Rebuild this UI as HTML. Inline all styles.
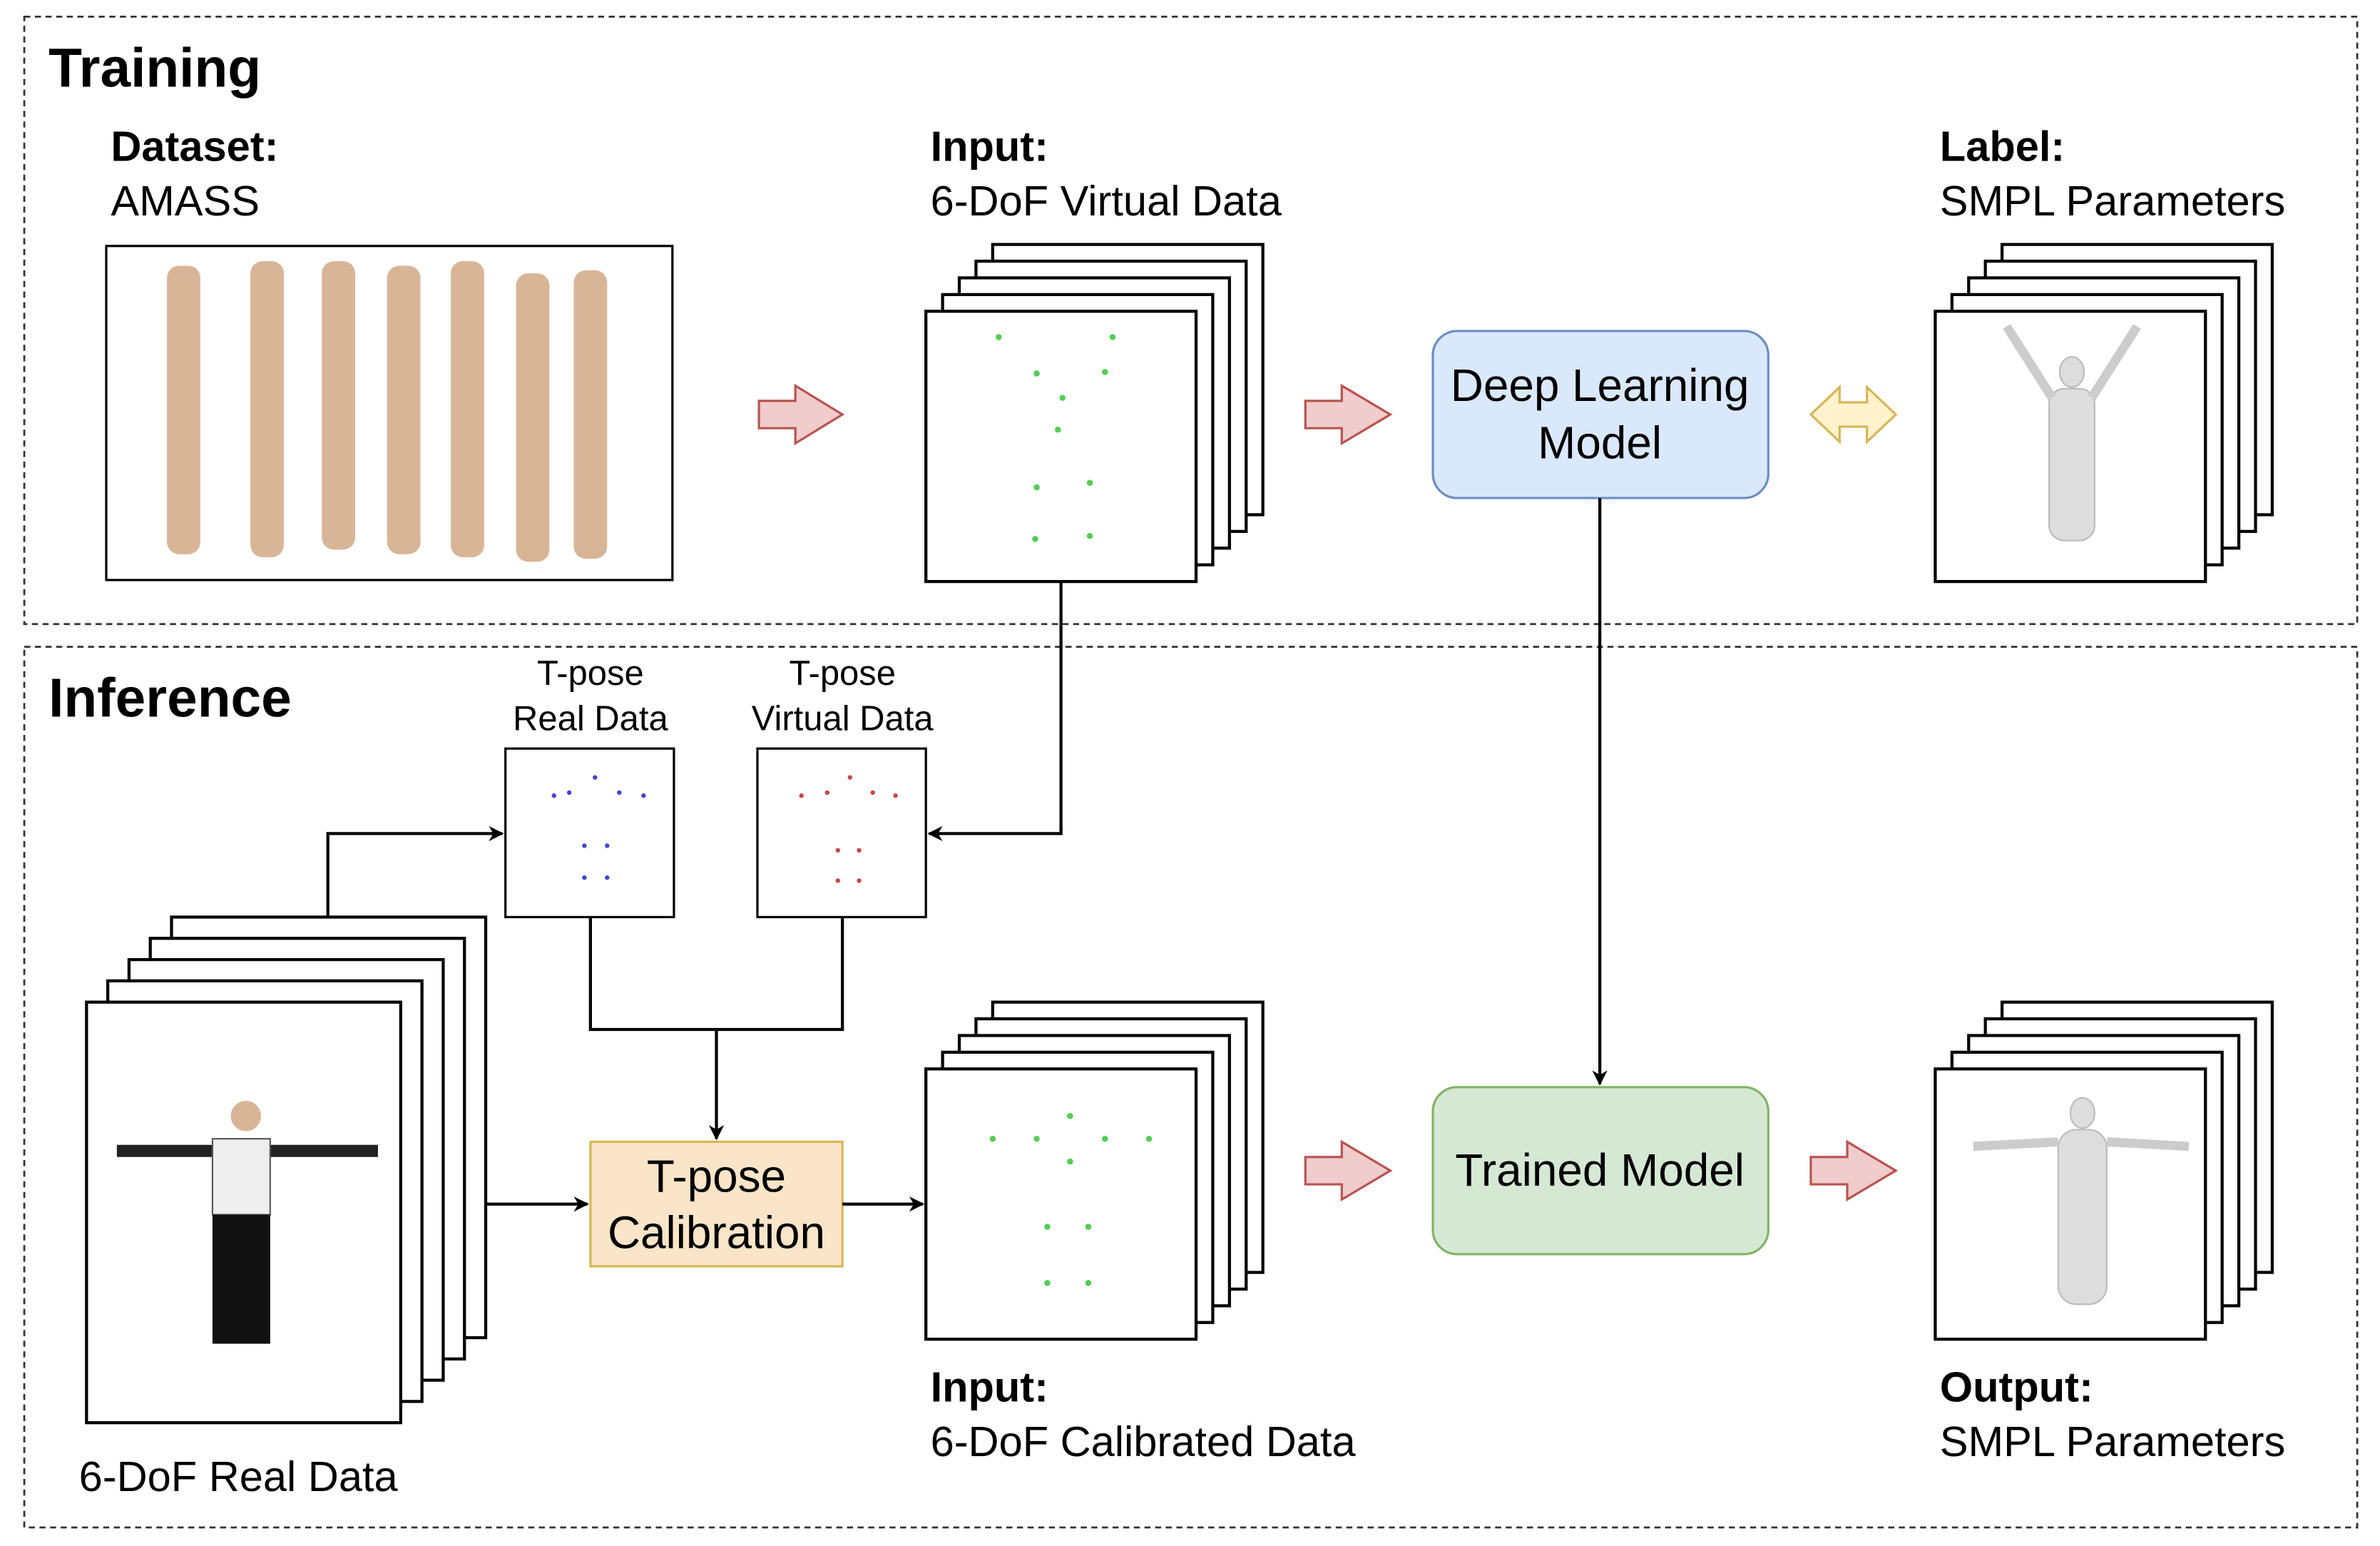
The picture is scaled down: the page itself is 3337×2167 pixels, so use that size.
<!DOCTYPE html>
<html><head><meta charset="utf-8"><style>
html,body{margin:0;padding:0;background:#fff}
svg{display:block}
text{font-family:"Liberation Sans",Arial,sans-serif;fill:#000}
</style></head><body>
<svg width="3337" height="2167" viewBox="0 0 1568 1018.2" preserveAspectRatio="none" xmlns="http://www.w3.org/2000/svg">
<defs>
<marker id="ah" markerWidth="10" markerHeight="10" refX="9" refY="5" orient="auto" markerUnits="userSpaceOnUse">
<path d="M0,0 L10,5 L0,10 L3,5 Z" fill="#000"/></marker>
<g id="fr"><rect x="0" y="0" width="178" height="178" fill="#fff" stroke="#000" stroke-width="2"/></g>
</defs>
<rect x="16" y="11" width="1537" height="400" fill="none" stroke="#333" stroke-width="1.3" stroke-dasharray="4,3"/>
<rect x="16" y="426" width="1537" height="580" fill="none" stroke="#333" stroke-width="1.3" stroke-dasharray="4,3"/>
<text x="32" y="57" font-size="36" font-weight="bold">Training</text>
<text x="32" y="472" font-size="36" font-weight="bold">Inference</text>

<text x="73" y="106" font-size="28" font-weight="bold">Dataset:</text>
<text x="73" y="142" font-size="28">AMASS</text>
<text x="613" y="106" font-size="28" font-weight="bold">Input:</text>
<text x="613" y="142" font-size="28">6-DoF Virtual Data</text>
<text x="1278" y="106" font-size="28" font-weight="bold">Label:</text>
<text x="1278" y="142" font-size="28">SMPL Parameters</text>

<rect x="70" y="162" width="373" height="220" fill="#fff" stroke="#000" stroke-width="1.5"/>
<g fill="#d9b598">
<rect x="110" y="175" width="22" height="190" rx="8"/>
<rect x="165" y="172" width="22" height="195" rx="8"/>
<rect x="212" y="172" width="22" height="190" rx="8"/>
<rect x="255" y="175" width="22" height="190" rx="8"/>
<rect x="297" y="172" width="22" height="195" rx="8"/>
<rect x="340" y="180" width="22" height="190" rx="8"/>
<rect x="378" y="178" width="22" height="190" rx="8"/>
</g>

<g id="stk">
<use href="#fr" x="654" y="161"/><use href="#fr" x="643" y="172"/><use href="#fr" x="632" y="183"/><use href="#fr" x="621" y="194"/><use href="#fr" x="610" y="205"/>
</g>
<use href="#stk" x="665" y="0"/>
<use href="#stk" x="0" y="499"/>
<use href="#stk" x="665" y="499"/>
<g>
<rect x="113" y="604" width="207" height="277" fill="#fff" stroke="#000" stroke-width="2"/>
<rect x="99" y="618" width="207" height="277" fill="#fff" stroke="#000" stroke-width="2"/>
<rect x="85" y="632" width="207" height="277" fill="#fff" stroke="#000" stroke-width="2"/>
<rect x="71" y="646" width="207" height="277" fill="#fff" stroke="#000" stroke-width="2"/>
<rect x="57" y="660" width="207" height="277" fill="#fff" stroke="#000" stroke-width="2"/>
</g>
<rect x="77" y="754" width="172" height="8" fill="#222"/>
<circle cx="162" cy="735" r="10" fill="#d9b598"/>
<rect x="140" y="750" width="38" height="50" fill="#eee" stroke="#555"/>
<rect x="140" y="800" width="38" height="85" fill="#111"/>
<g fill="#5c5">
<circle cx="658" cy="222" r="2"/><circle cx="733" cy="222" r="2"/><circle cx="683" cy="246" r="2"/><circle cx="700" cy="262" r="2"/><circle cx="728" cy="245" r="2"/><circle cx="697" cy="283" r="2"/><circle cx="683" cy="321" r="2"/><circle cx="718" cy="318" r="2"/><circle cx="682" cy="355" r="2"/><circle cx="718" cy="353" r="2"/>
<circle cx="654" cy="750" r="2"/><circle cx="683" cy="750" r="2"/><circle cx="705" cy="735" r="2"/><circle cx="728" cy="750" r="2"/><circle cx="757" cy="750" r="2"/><circle cx="705" cy="765" r="2"/><circle cx="690" cy="808" r="2"/><circle cx="717" cy="808" r="2"/><circle cx="690" cy="845" r="2"/><circle cx="717" cy="845" r="2"/>
</g>
<g fill="#ddd" stroke="#bbb">
<ellipse cx="1365" cy="245" rx="8" ry="10"/><rect x="1350" y="256" width="30" height="100" rx="10"/>
<path d="M1352,262 L1322,215 M1378,262 L1408,215" stroke="#ccc" stroke-width="6" fill="none"/>
<ellipse cx="1372" cy="733" rx="8" ry="10"/><rect x="1356" y="744" width="32" height="115" rx="12"/>
<path d="M1356,752 L1300,755 M1388,752 L1442,755" stroke="#ccc" stroke-width="6" fill="none"/>
</g>

<text x="389" y="451" font-size="23" text-anchor="middle">T-pose</text>
<text x="389" y="481" font-size="23" text-anchor="middle">Real Data</text>
<text x="555" y="451" font-size="23" text-anchor="middle">T-pose</text>
<text x="555" y="481" font-size="23" text-anchor="middle">Virtual Data</text>
<rect x="333" y="493" width="111" height="111" fill="#fff" stroke="#000" stroke-width="1.5"/>
<rect x="499" y="493" width="111" height="111" fill="#fff" stroke="#000" stroke-width="1.5"/>
<g fill="#44c"><circle cx="365" cy="524" r="1.5"/><circle cx="375" cy="522" r="1.5"/><circle cx="392" cy="512" r="1.5"/><circle cx="408" cy="522" r="1.5"/><circle cx="424" cy="524" r="1.5"/><circle cx="385" cy="557" r="1.5"/><circle cx="400" cy="557" r="1.5"/><circle cx="385" cy="578" r="1.5"/><circle cx="400" cy="578" r="1.5"/></g>
<g fill="#c44"><circle cx="528" cy="524" r="1.5"/><circle cx="545" cy="522" r="1.5"/><circle cx="560" cy="512" r="1.5"/><circle cx="575" cy="522" r="1.5"/><circle cx="590" cy="524" r="1.5"/><circle cx="552" cy="560" r="1.5"/><circle cx="566" cy="560" r="1.5"/><circle cx="552" cy="580" r="1.5"/><circle cx="566" cy="580" r="1.5"/></g>

<rect x="944" y="218" width="221" height="110" rx="16" fill="#dae8fc" stroke="#6c8ebf" stroke-width="1.5"/>
<text x="1054" y="264" font-size="30" text-anchor="middle">Deep Learning</text>
<text x="1054" y="302" font-size="30" text-anchor="middle">Model</text>
<rect x="944" y="716" width="221" height="110" rx="16" fill="#d5e8d4" stroke="#82b366" stroke-width="1.5"/>
<text x="1054" y="781" font-size="30" text-anchor="middle">Trained Model</text>
<rect x="389" y="752" width="166" height="82" fill="#fae5c8" stroke="#d6b656" stroke-width="1.5"/>
<text x="472" y="785" font-size="30" text-anchor="middle">T-pose</text>
<text x="472" y="822" font-size="30" text-anchor="middle">Calibration</text>

<g fill="#f0cccc" stroke="#b85450" stroke-width="1.5">
<path d="M500,264 L524,264 L524,254 L555,273 L524,292 L524,282 L500,282 Z"/>
<path d="M860,264 L884,264 L884,254 L916,273 L884,292 L884,282 L860,282 Z"/>
<path d="M860,762 L884,762 L884,752 L916,771 L884,790 L884,780 L860,780 Z"/>
<path d="M1193,762 L1217,762 L1217,752 L1249,771 L1217,790 L1217,780 L1193,780 Z"/>
</g>
<path d="M1193,273 L1212,255 L1212,265 L1230,265 L1230,255 L1249,273 L1230,291 L1230,281 L1212,281 L1212,291 Z" fill="#fff2cc" stroke="#d6b656" stroke-width="1.5"/>

<g stroke="#000" stroke-width="2" fill="none">
<path d="M699,383 L699,549 L612,549" marker-end="url(#ah)"/>
<path d="M216,604 L216,549 L331,549" marker-end="url(#ah)"/>
<path d="M389,604 L389,678 L555,678 L555,604"/>
<path d="M472,678 L472,750" marker-end="url(#ah)"/>
<path d="M320,793 L387,793" marker-end="url(#ah)"/>
<path d="M555,793 L608,793" marker-end="url(#ah)"/>
<path d="M1054,328 L1054,714" marker-end="url(#ah)"/>
</g>

<text x="613" y="923" font-size="28" font-weight="bold">Input:</text>
<text x="613" y="959" font-size="28">6-DoF Calibrated Data</text>
<text x="1278" y="923" font-size="28" font-weight="bold">Output:</text>
<text x="1278" y="959" font-size="28">SMPL Parameters</text>
<text x="52" y="982" font-size="28">6-DoF Real Data</text>
</svg>
</body></html>
